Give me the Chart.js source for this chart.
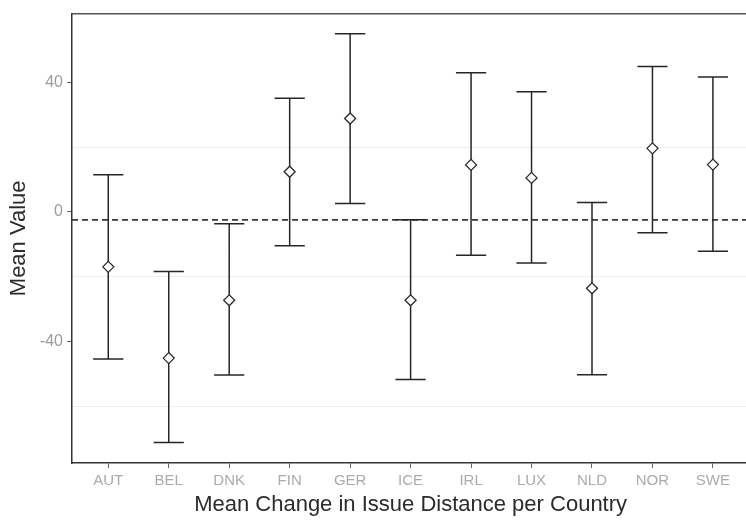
<!DOCTYPE html>
<html>
<head>
<meta charset="utf-8">
<script src="https://cdn.jsdelivr.net/npm/chart.js@4.4.1/dist/chart.umd.min.js"></script>
<style>
  html, body { margin: 0; padding: 0; background: #fff; overflow: hidden; }
  #chart { display: block; }
</style>
</head>
<body>
<canvas id="chart" width="756" height="521"></canvas>
<script>
// values
const countries = ["AUT", "BEL", "DNK", "FIN", "GER", "ICE", "IRL", "LUX", "NLD", "NOR", "SWE"];
const means = [-16.9, -45.0, -27.2, 12.4, 28.8, -27.2, 14.5, 10.5, -23.5, 19.6, 14.6];
const upper = [11.5, -18.3, -3.6, 35.0, 54.9, -2.4, 42.9, 37.0, 2.9, 44.8, 41.6];
const lower = [-45.3, -71.0, -50.2, -10.4, 2.6, -51.6, -13.3, -15.7, -50.1, -6.4, -12.1];
const overallMean = -2.4;
const yTicks = [-60, -40, -20, 0, 20, 40];
const yLabels = [-40, 0, 40];

const xMin = 0.4, xMax = countries.length + 0.6;
const capHalf = 0.25;

// error bars as one broken line (null = gap)
let bars = [];
countries.forEach((c, i) => {
  let x = i + 1;
  bars.push({ x: x, y: lower[i] }, { x: x, y: upper[i] }, { x: x, y: null });
  bars.push({ x: x - capHalf, y: upper[i] }, { x: x + capHalf, y: upper[i] }, { x: x, y: null });
  bars.push({ x: x - capHalf, y: lower[i] }, { x: x + capHalf, y: lower[i] }, { x: x, y: null });
});

const font = "'Liberation Sans', Arial, sans-serif";

const data = {
  datasets: [
    {
      type: "scatter",
      label: "Mean",
      data: means.map((m, i) => ({ x: i + 1, y: m })),
      pointStyle: "rectRot",
      pointRadius: 5.5,
      pointBorderWidth: 1.3,
      pointBorderColor: "#2a2a2a",
      pointBackgroundColor: "#ffffff",
    },
    {
      type: "line",
      label: "CI",
      data: bars,
      borderColor: "#262626",
      borderWidth: 1.5,
      pointRadius: 0,
      spanGaps: false,
    },
    {
      type: "line",
      label: "Overall",
      data: [{ x: xMin, y: overallMean }, { x: xMax, y: overallMean }],
      borderColor: "#3a3a3a",
      borderWidth: 1.7,
      borderDash: [6, 4],
      pointRadius: 0,
    },
  ],
};

const config = {
  type: "scatter",
  data: data,
  options: {
    responsive: false,
    animation: false,
    devicePixelRatio: 1,
    layout: { padding: { top: 0, right: 2, bottom: 0, left: 0 } },
    plugins: { legend: { display: false }, tooltip: { enabled: false } },
    scales: {
      x: {
        type: "linear",
        position: "bottom",
        min: xMin,
        max: xMax,
        afterBuildTicks: (scale) => {
          scale.ticks = countries.map((c, i) => ({ value: i + 1 }));
        },
        afterFit: (scale) => { scale.height = 58; },
        ticks: {
          callback: (v) => countries[v - 1] || "",
          color: "#ababab",
          font: { family: font, size: 15 },
          padding: 4,
          maxRotation: 0,
          autoSkip: false,
        },
        grid: { drawOnChartArea: false, drawTicks: true, tickLength: 5, tickColor: "#666" },
        border: { display: true, color: "#333", width: 1.5 },
        title: {
          display: true,
          text: "Mean Change in Issue Distance per Country",
          color: "#2b2b2b",
          font: { family: font, size: 22 },
          padding: { top: 0, bottom: 3 },
        },
      },
      x2: {
        type: "linear",
        position: "top",
        min: xMin,
        max: xMax,
        afterFit: (scale) => { scale.height = 12; },
        ticks: { display: false },
        grid: { display: false },
        border: { display: true, color: "#555", width: 1.5 },
      },
      y: {
        type: "linear",
        min: -77.3,
        max: 61.1,
        afterBuildTicks: (scale) => {
          scale.ticks = yTicks.map((v) => ({ value: v }));
        },
        afterFit: (scale) => { scale.width = 72; },
        ticks: {
          callback: (v) => (yLabels.includes(v) ? v.toString() : ""),
          color: "#9c9c9c",
          font: { family: font, size: 16 },
          padding: 4,
        },
        grid: {
          color: (ctx) => (ctx.tick && yLabels.includes(ctx.tick.value) ? "rgba(0,0,0,0)" : "#efefef"),
          tickColor: (ctx) => (ctx.tick && yLabels.includes(ctx.tick.value) ? "#666" : "rgba(0,0,0,0)"),
          tickLength: 5,
          lineWidth: 1,
        },
        border: { display: true, color: "#333", width: 1.5 },
        title: {
          display: true,
          text: "Mean Value",
          color: "#2b2b2b",
          font: { family: font, size: 22 },
          padding: { top: 6, bottom: 0 },
        },
      },
    },
  },
};

document.addEventListener("DOMContentLoaded", () => {
  const myChart = new Chart(document.querySelector("#chart"), config);
});
</script>
</body>
</html>
